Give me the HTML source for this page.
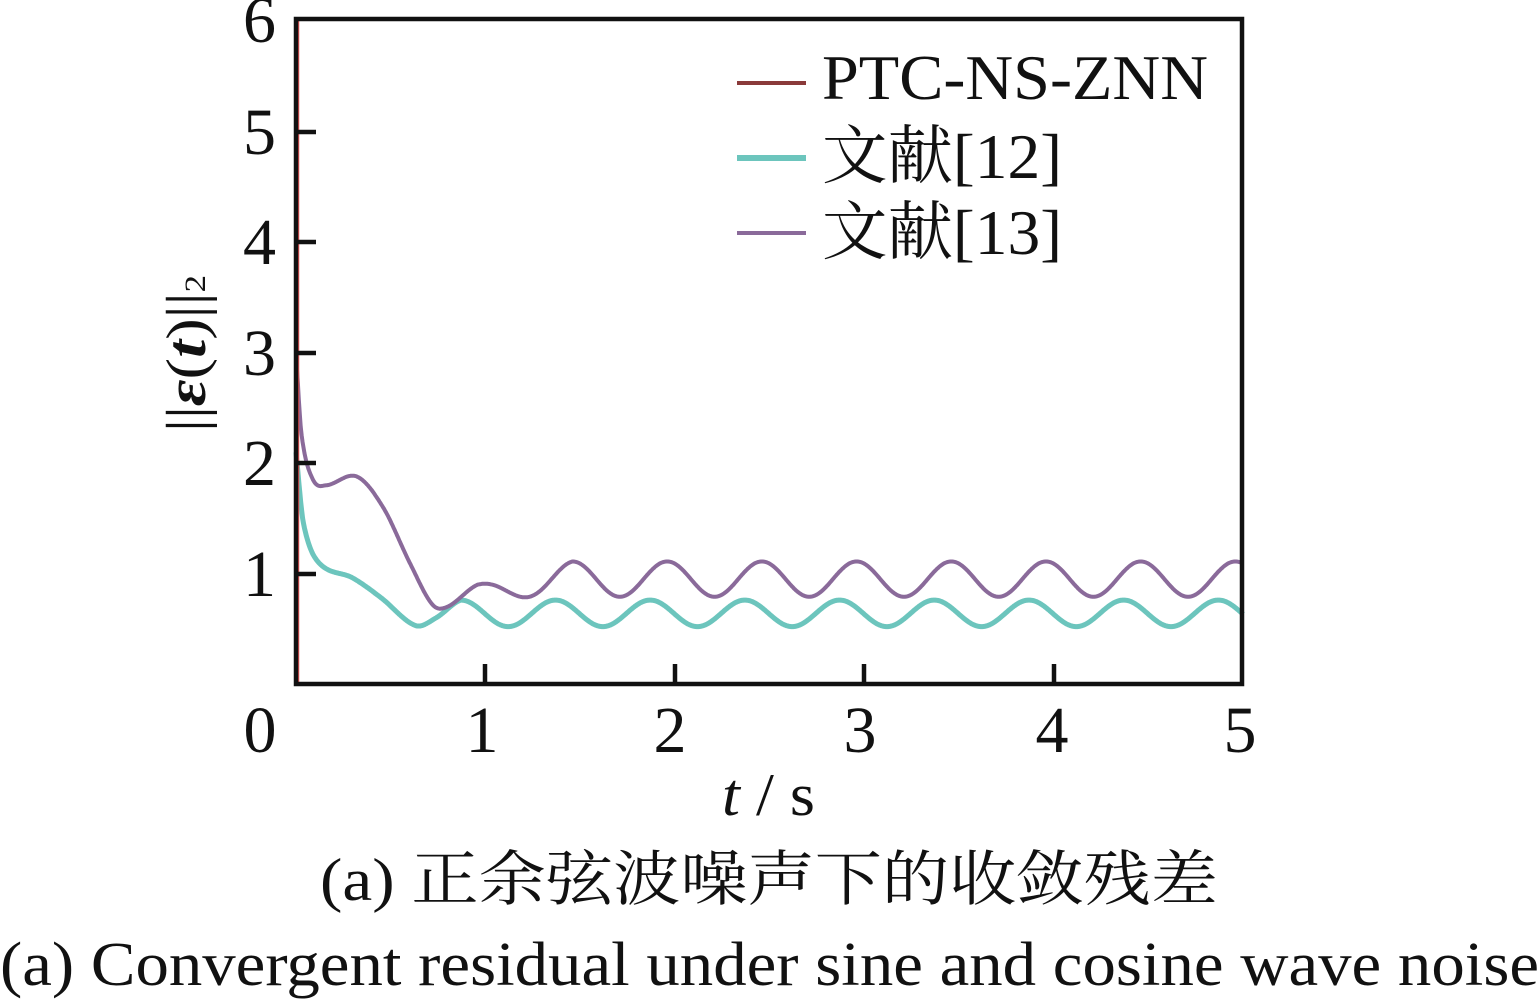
<!DOCTYPE html>
<html><head><meta charset="utf-8"><style>
html,body{margin:0;padding:0;background:#fff;}
svg{display:block;}
text{font-family:"Liberation Serif","Times New Roman",serif;fill:#111;}
.cj{font-family:"Noto Serif CJK SC","Noto Sans CJK SC",serif;}
</style></head><body>
<svg id="s" width="1539" height="1001" viewBox="0 0 1539 1001" xmlns="http://www.w3.org/2000/svg">
<rect width="1539" height="1001" fill="#fff"/>
<path id="cy" fill="none" stroke="#6cc5bd" stroke-width="5" stroke-linejoin="round"/>
<path id="pu" fill="none" stroke="#8a6a9a" stroke-width="4" stroke-linejoin="round"/>
<line x1="298" y1="20" x2="298" y2="683" stroke="#e05050" stroke-width="2.5"/>
<line x1="298" y1="683" x2="1241" y2="683" stroke="#f4b0b0" stroke-width="2"/>
<rect x="296" y="19" width="946" height="665" fill="none" stroke="#111" stroke-width="4.5"/>
<g stroke="#111" stroke-width="4.5">
<line x1="296" y1="132" x2="316" y2="132"/><line x1="296" y1="242" x2="316" y2="242"/>
<line x1="296" y1="353" x2="316" y2="353"/><line x1="296" y1="463" x2="316" y2="463"/>
<line x1="296" y1="574" x2="316" y2="574"/>
<line x1="485" y1="684" x2="485" y2="664"/><line x1="675" y1="684" x2="675" y2="664"/>
<line x1="864" y1="684" x2="864" y2="664"/><line x1="1054" y1="684" x2="1054" y2="664"/>
</g>
<g font-size="66" text-anchor="end" font-family="Liberation Serif, serif">
<text x="276" y="42">6</text><text x="276" y="154">5</text><text x="276" y="264">4</text>
<text x="276" y="375">3</text><text x="276" y="485">2</text><text x="276" y="596">1</text>
</g>
<g font-size="66" text-anchor="middle" font-family="Liberation Serif, serif">
<text x="260" y="752">0</text><text x="482" y="752">1</text><text x="670" y="752">2</text>
<text x="860" y="752">3</text><text x="1052" y="752">4</text><text x="1240" y="752">5</text>
</g>
<text x="722" y="815" font-size="60" font-family="Liberation Serif, serif" textLength="93" lengthAdjust="spacingAndGlyphs"><tspan font-style="italic">t</tspan> / s</text>
<text x="320" y="900" font-size="60" textLength="898" lengthAdjust="spacingAndGlyphs"><tspan font-family="Liberation Serif, serif">(a)  </tspan><tspan class="cj">正余弦波噪声下的收敛残差</tspan></text>
<text x="0" y="985" font-size="62" font-family="Liberation Serif, serif" textLength="1539" lengthAdjust="spacingAndGlyphs">(a)  Convergent residual under sine and cosine wave noise</text>
<text transform="translate(205,432) rotate(-90)" font-size="56" font-family="Liberation Serif, serif" textLength="157" lengthAdjust="spacingAndGlyphs">||<tspan font-weight="bold" font-style="italic">ε</tspan>(<tspan font-style="italic" font-weight="bold">t</tspan>)||<tspan font-size="30">2</tspan></text>
<line x1="737" y1="83" x2="806" y2="83" stroke="#8a3a3a" stroke-width="4"/>
<line x1="737" y1="158" x2="806" y2="158" stroke="#6cc5bd" stroke-width="6"/>
<line x1="737" y1="233" x2="806" y2="233" stroke="#8a6a9a" stroke-width="4"/>
<g font-size="64">
<text x="822" y="99" font-family="Liberation Serif, serif" textLength="386" lengthAdjust="spacingAndGlyphs">PTC-NS-ZNN</text>
<text x="822" y="178" textLength="240" lengthAdjust="spacingAndGlyphs"><tspan class="cj">文献</tspan><tspan font-family="Liberation Serif, serif">[12]</tspan></text>
<text x="822" y="254" textLength="240" lengthAdjust="spacingAndGlyphs"><tspan class="cj">文献</tspan><tspan font-family="Liberation Serif, serif">[13]</tspan></text>
</g>
</svg>
<script>
function X(t){return 296+t*189.4;}
function Y(v){return 684-v*110.4;}
function cr(pts,t){
  var n=pts.length;
  for(var i=0;i<n-1;i++){
    if(t>=pts[i][0]&&t<=pts[i+1][0]){
      var p0=pts[Math.max(i-1,0)],p1=pts[i],p2=pts[i+1],p3=pts[Math.min(i+2,n-1)];
      var u=(t-p1[0])/(p2[0]-p1[0]);
      var m1=(p2[1]-p0[1])/(p2[0]-p0[0])*(p2[0]-p1[0]);
      var m2=(p3[1]-p1[1])/(p3[0]-p1[0])*(p2[0]-p1[0]);
      var u2=u*u,u3=u2*u;
      return (2*u3-3*u2+1)*p1[1]+(u3-2*u2+u)*m1+(-2*u3+3*u2)*p2[1]+(u3-u2)*m2;
    }
  }
  return pts[n-1][1];
}
var cyE=[[0,2.1],[0.04,1.45],[0.12,1.1],[0.3,0.96],[0.45,0.78],[0.63,0.53],[0.74,0.6],[0.87,0.76],[0.95,0.72]];
var puE=[[0,3.0],[0.03,2.25],[0.09,1.85],[0.16,1.8],[0.32,1.88],[0.46,1.6],[0.6,1.1],[0.72,0.72],[0.8,0.7],[0.96,0.9],[1.05,0.87]];
function cyF(t){return 0.64+0.12*Math.cos(2*Math.PI*(t-0.37)/0.5);}
function cy(t){if(t<0.87)return cr(cyE,t);return cyF(t);}
function pu(t){if(t<0.96)return cr(puE,t);
  var amp=0.16, off=0.95;
  if(t<1.46){var r=(t-0.96)/0.5;amp=0.06+0.1*r;off=0.84+0.11*r;}
  return off+amp*Math.cos(2*Math.PI*(t-0.46)/0.5);}
function path(f){var d="";for(var i=0;i<=1000;i++){var t=i*0.005;d+=(i?"L":"M")+X(t).toFixed(1)+","+Y(f(t)).toFixed(1);}return d;}
document.getElementById("cy").setAttribute("d",path(cy));
document.getElementById("pu").setAttribute("d",path(pu));
</script>
</body></html>
